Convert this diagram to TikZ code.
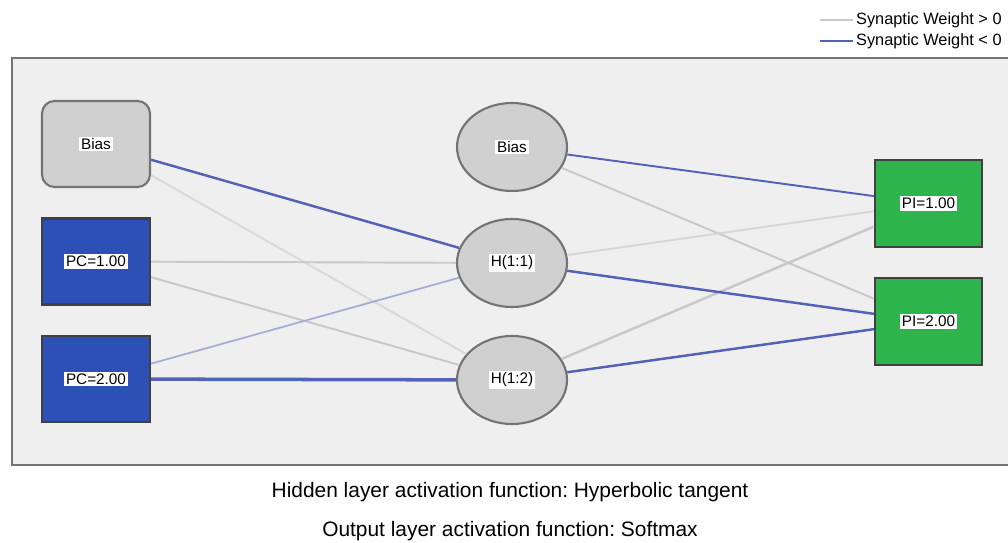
\documentclass[tikz,border=0pt]{standalone}
\usepackage{fontspec}
\setmainfont{Liberation Sans}
\usetikzlibrary{shapes.geometric}
\frenchspacing

\definecolor{panelgray}{RGB}{239,239,239}
\definecolor{nodegray}{RGB}{208,208,208}
\definecolor{pcblue}{RGB}{44,80,182}
\definecolor{pigreen}{RGB}{46,180,76}
\definecolor{wneg}{RGB}{82,98,182}
\definecolor{wnegl}{RGB}{165,172,215}
\definecolor{wpos}{RGB}{200,200,200}

\newcommand\wlbl[1]{{\setlength\fboxsep{1pt}\colorbox{white}{#1}}}

\tikzset{
  unitbox/.style={minimum width=2.16cm,minimum height=1.72cm,line width=1.2pt,
    font=\fontsize{8.7}{10}\selectfont,inner sep=0pt},
  biasbox/.style={unitbox,rectangle,rounded corners=0.25cm,fill=nodegray,draw=black!55},
  inbox/.style={unitbox,rectangle,fill=pcblue,draw=black!75},
  hidden/.style={unitbox,ellipse,minimum width=2.2cm,minimum height=1.76cm,fill=nodegray,draw=black!55},
  outbox/.style={unitbox,rectangle,minimum width=2.14cm,minimum height=1.74cm,fill=pigreen,draw=black!75},
  wtpos/.style={draw=wpos,line width=1.1pt},
  wtneg/.style={draw=wneg,line width=1.4pt},
  legtext/.style={anchor=west,font=\fontsize{9.3}{11}\selectfont,inner sep=1pt},
}

\begin{document}
\begin{tikzpicture}
  \useasboundingbox (0,0) rectangle (20.16,10.86);
  \fill[white] (0,0) rectangle (20.16,10.86);
  \draw[fill=panelgray,draw=black!55,line width=1pt] (0.24,1.56) rectangle (20.5,9.70);

  % legend
  \coordinate (lp1) at (16.4,10.46);
  \coordinate (lp2) at (17.06,10.46);
  \coordinate (ln1) at (16.4,10.04);
  \coordinate (ln2) at (17.06,10.04);
  \draw[wtpos,line width=0.8pt] (lp1)--(lp2);
  \draw[wtneg,line width=0.9pt] (ln1)--(ln2);
  \node[legtext] (legpos) at (17.08,10.46) {Synaptic Weight > 0};
  \node[legtext] (legneg) at (17.08,10.04) {Synaptic Weight < 0};

  % layers
  \node[biasbox] (ib) at (1.92,7.98) {\wlbl{Bias}};
  \node[inbox] (pc1) at (1.92,5.63) {\wlbl{PC=1.00}};
  \node[inbox] (pc2) at (1.92,3.28) {\wlbl{PC=2.00}};
  \node[hidden] (hb) at (10.24,7.92) {\wlbl{Bias}};
  \node[hidden] (h1) at (10.24,5.60) {\wlbl{H(1:1)}};
  \node[hidden] (h2) at (10.24,3.26) {\wlbl{H(1:2)}};
  \node[outbox] (pi1) at (18.57,6.79) {\wlbl{PI=1.00}};
  \node[outbox] (pi2) at (18.57,4.43) {\wlbl{PI=2.00}};

  % weights
  \draw[wtpos,draw=wpos!70] (ib)--(h2);
  \draw[wtpos] (pc1)--(h1);
  \draw[wtpos] (pc1)--(h2);
  \draw[draw=wnegl,line width=1pt] (pc2)--(h1);
  \draw[wtneg] (ib)--(h1);
  \draw[wtneg,line width=2pt] (pc2)--(h2);
  \draw[wtpos] (hb)--(pi2);
  \draw[wtpos,draw=wpos!75,line width=1pt] (h1)--(pi1);
  \draw[wtpos,line width=1.4pt] (h2)--(pi1);
  \draw[wtneg,line width=1.1pt] (hb)--(pi1);
  \draw[wtneg] (h1)--(pi2);
  \draw[wtneg] (h2)--(pi2);

  \node[font=\fontsize{11.9}{14}\selectfont] (cap1) at (10.2,1.02) {Hidden layer activation function: Hyperbolic tangent};
  \node[font=\fontsize{11.9}{14}\selectfont] (cap2) at (10.2,0.24) {Output layer activation function: Softmax};
\end{tikzpicture}
\end{document}
